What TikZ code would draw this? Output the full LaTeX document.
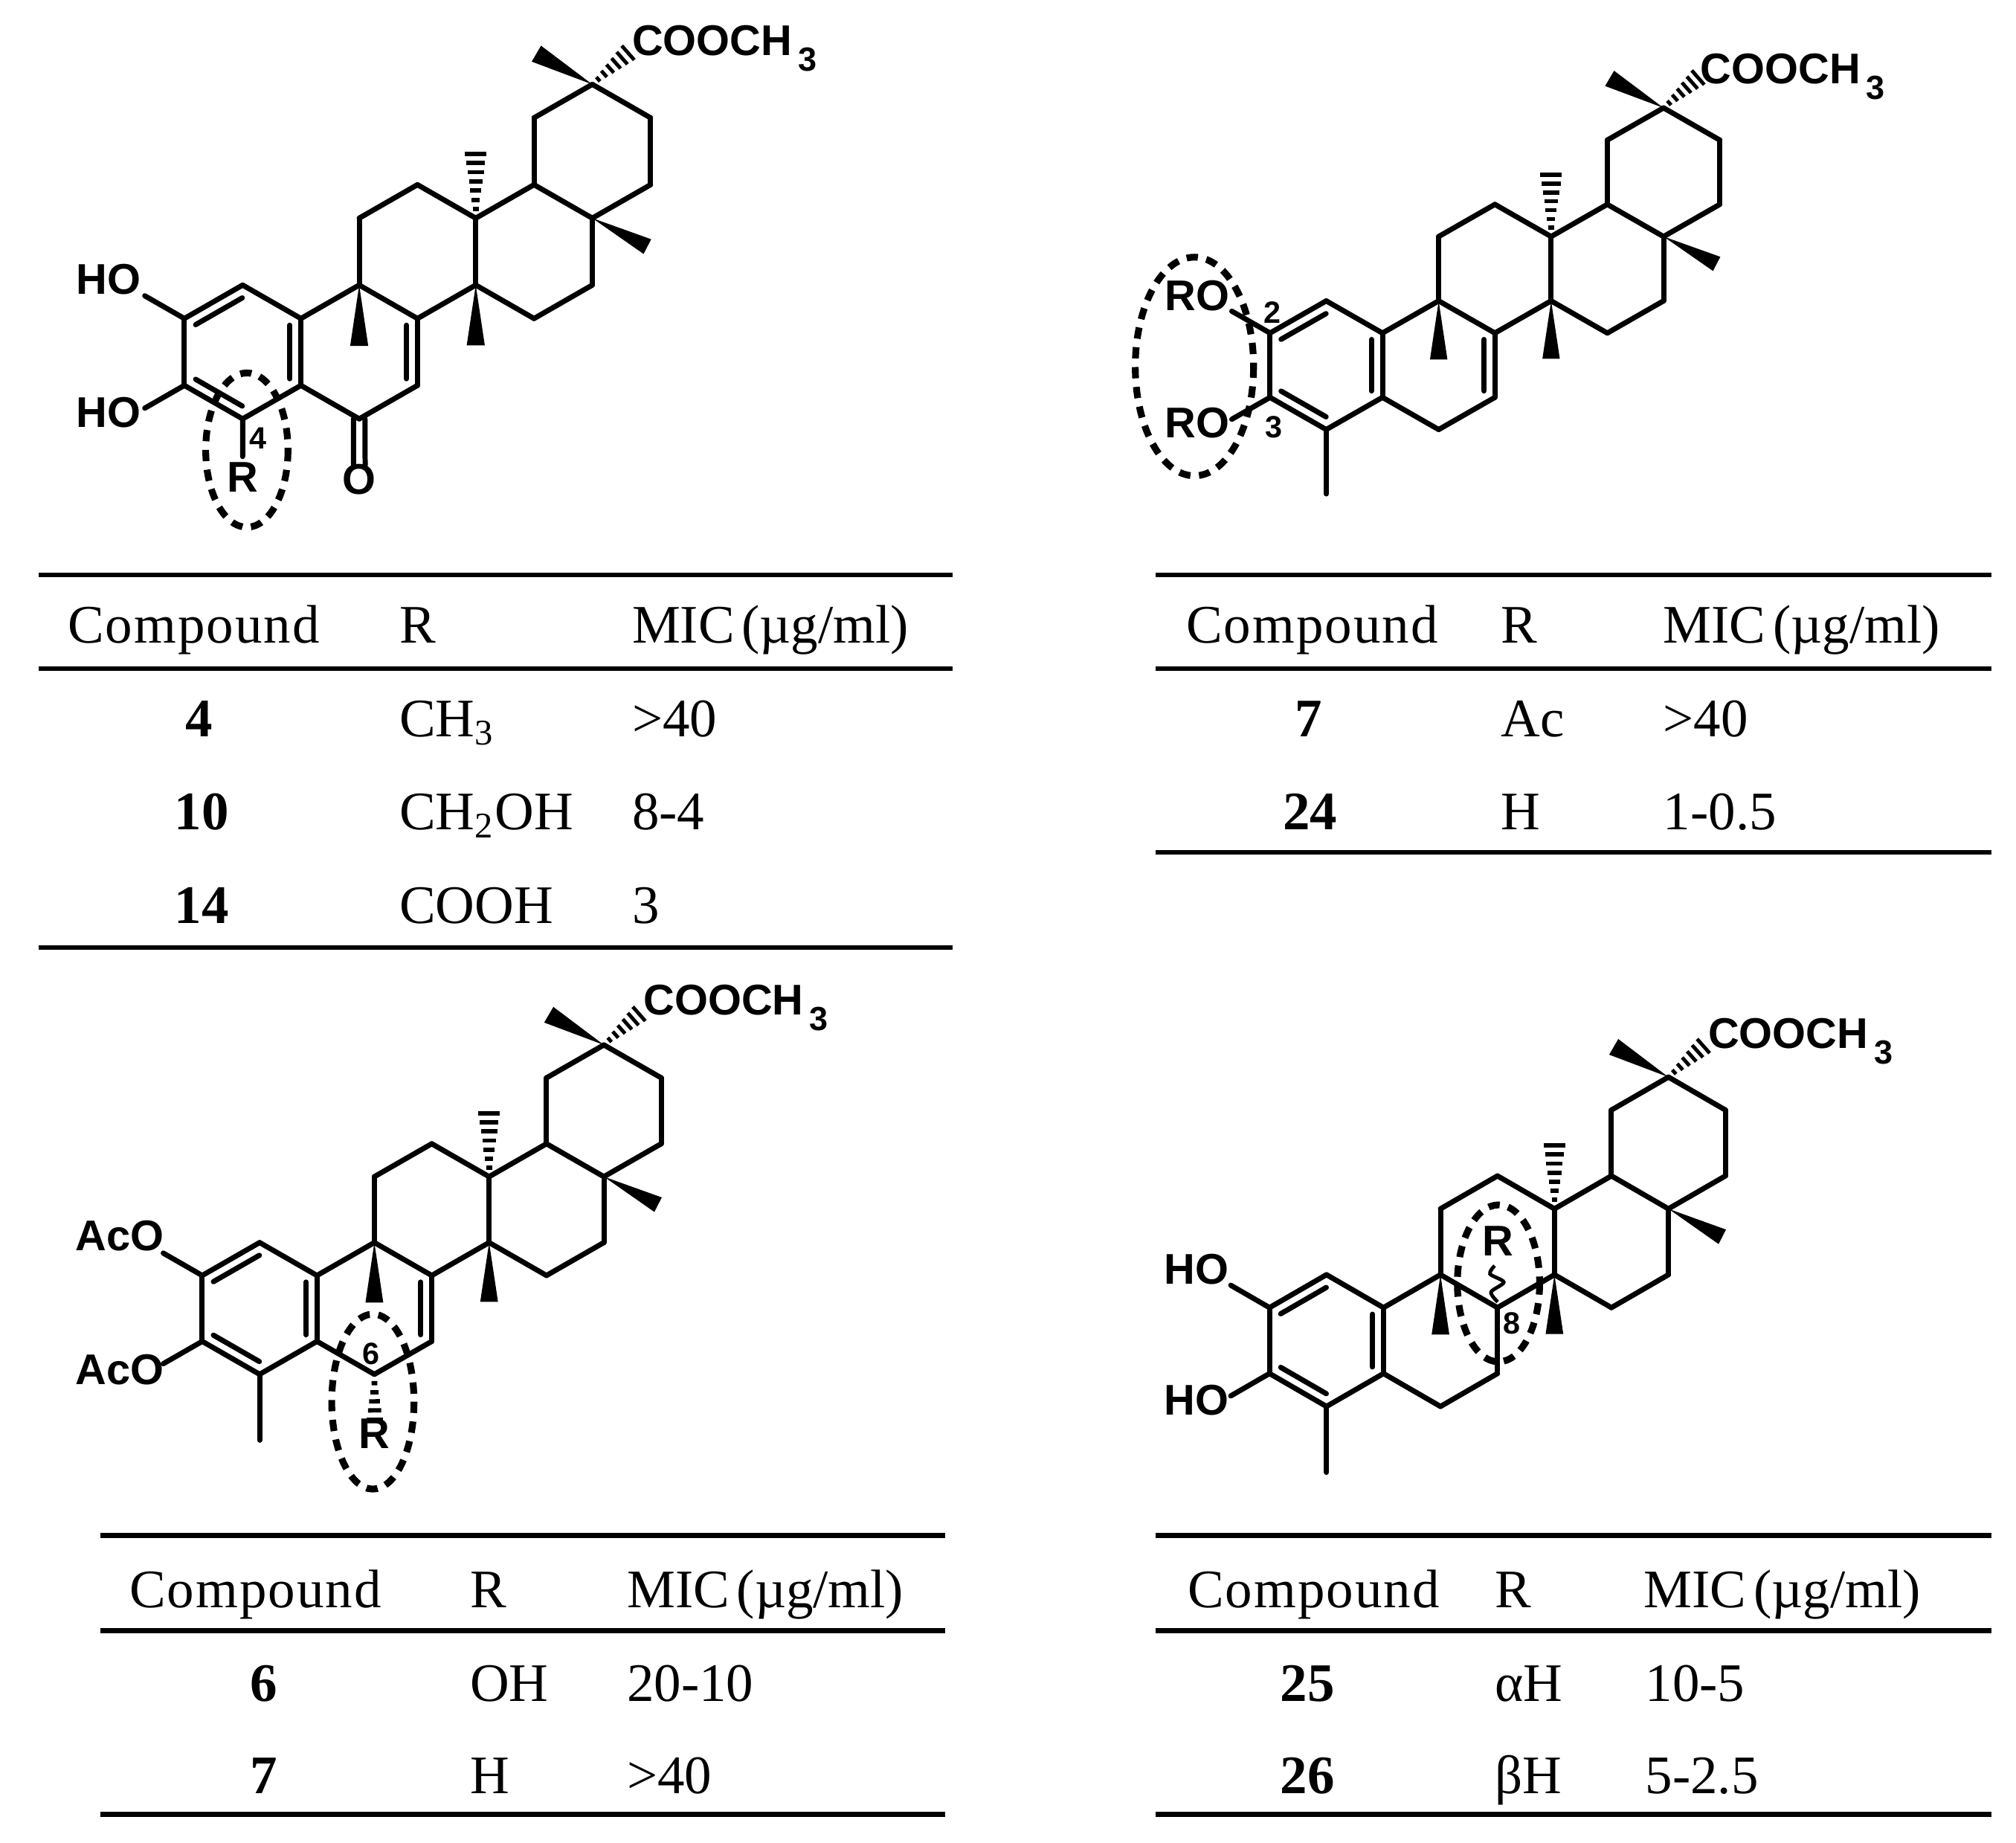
\documentclass[tikz,border=0pt]{standalone}
\usepackage{fontspec}
\setmainfont{Liberation Serif}
\newfontfamily\labelfont{Liberation Sans}
\newfontfamily\headfont[LetterSpace=2.8]{Liberation Serif}
\usepackage{tikz}
\usetikzlibrary{calc}

\tikzset{
    bond/.style={line width=1.15pt,line cap=round},
    hashline/.style={line width=0.95pt},
    finehash/.style={line width=0.8pt},
    rulerline/.style={line width=1.05pt},
    ringmark/.style={line width=1.5pt,dash pattern=on 2.5pt off 1.9pt},
    atomtext/.style={inner sep=0pt,font=\fontsize{9.5}{11}\labelfont\bfseries\selectfont},
    locant/.style={inner sep=0pt,font=\fontsize{6.8}{8}\labelfont\bfseries\selectfont},
    celltext/.style={anchor=base west,inner sep=0pt,font=\fontsize{12}{14}\selectfont},
    numtext/.style={anchor=base,inner sep=0pt,font=\fontsize{12}{14}\selectfont\bfseries}
}

\newcommand{\innerbond}[2]{\draw[bond] ($(#1)!.1!(#2)!.085cm!90:(#2)$) -- ($(#1)!.9!(#2)!.085cm!90:(#2)$);}
\newcommand{\hashbond}[5]{%
    \foreach \t in {1,...,#4} {
        \pgfmathsetmacro{\f}{(\t-.02)/#4}
        \pgfmathsetmacro{\hw}{.012+#3*\f}
        \draw[#5] ($(#1)!\f!(#2)!\hw cm!90:(#2)$) -- ($(#1)!\f!(#2)!\hw cm!-90:(#2)$);
    }
}
\newcommand{\skeleton}[5]{%
    \begin{scope}[shift={(#2,#3)},x=#4cm,y=-#5cm]
        \coordinate (#1c1) at (1,-1);  \coordinate (#1c2) at (0,0);   \coordinate (#1c3) at (0,2);
        \coordinate (#1c4) at (1,3);   \coordinate (#1c5) at (2,2);   \coordinate (#1c6) at (3,3);
        \coordinate (#1c7) at (4,2);   \coordinate (#1c8) at (4,0);   \coordinate (#1c9) at (3,-1);
        \coordinate (#1c10) at (2,0);  \coordinate (#1c11) at (3,-3); \coordinate (#1c12) at (4,-4);
        \coordinate (#1c13) at (5,-3); \coordinate (#1c14) at (5,-1); \coordinate (#1c15) at (6,0);
        \coordinate (#1c16) at (7,-1); \coordinate (#1c17) at (7,-3); \coordinate (#1c18) at (6,-4);
        \coordinate (#1c19) at (6,-6); \coordinate (#1c20) at (7,-7); \coordinate (#1c21) at (8,-6);
        \coordinate (#1c22) at (8,-4);
        \coordinate (#1sub2) at (-.68,-.68);
        \coordinate (#1sub3) at (-.68,2.68);
        \coordinate (#1me) at (1,5);
        \coordinate (#1ester) at (7.615,-7.945);
        \coordinate (#1axial) at (5,-4.93);
        \foreach \u/\v in {c1/c2,c2/c3,c3/c4,c4/c5,c5/c10,c10/c1,c5/c6,c6/c7,c7/c8,c8/c9,c9/c10,
            c9/c11,c11/c12,c12/c13,c13/c14,c14/c8,c14/c15,c15/c16,c16/c17,c17/c18,c18/c13,
            c18/c19,c19/c20,c20/c21,c21/c22,c22/c17,c2/sub2,c3/sub3}
            \draw[bond] (#1\u) -- (#1\v);
        \fill (#1c9) -- (2.845,.82) -- (3.155,.82) -- cycle;
        \fill (#1c14) -- (4.845,.8) -- (5.155,.8) -- cycle;
        \fill (#1c17) -- (8.01,-2.37) -- (7.88,-1.93) -- cycle;
        \fill (#1c20) -- (5.96,-7.68) -- (6.12,-8.155) -- cycle;
    \end{scope}
    \innerbond{#1c1}{#1c2}
    \innerbond{#1c3}{#1c4}
    \innerbond{#1c5}{#1c10}
    \hashbond{#1c13}{#1axial}{.072}{7}{hashline}
    \hashbond{#1c20}{#1ester}{.062}{6}{finehash}
}
\newcommand{\tablehead}[5]{%
    \node[celltext] (#1comp) at (#2,#5) {\headfont Compound};
    \node[celltext] (#1r) at (#3,#5) {R};
    \node[celltext] (#1mic) at (#4,#5) {MIC\kern1.6pt(µg/ml)};
}
\newcommand{\estertext}{COOCH\kern1.3pt\raisebox{-3.5pt}{\fontsize{7.4}{8}\selectfont 3}}

\begin{document}
\begin{tikzpicture}[x=0.01cm,y=-0.01cm]
\useasboundingbox (0,0) rectangle (1568,1433);

% top left
\skeleton{a}{143.4}{247.7}{.453}{.26}
\innerbond{ac7}{ac8}
\coordinate (aoxo) at (279.5,362);
\coordinate (arest) at (188.7,355);
\draw[bond] ($(ac6)!.045cm!90:(aoxo)$) -- ($(aoxo)!.045cm!-90:(ac6)$);
\draw[bond] ($(ac6)!.045cm!-90:(aoxo)$) -- ($(aoxo)!.045cm!90:(ac6)$);
\draw[bond] (ac4) -- (arest);
\node[atomtext,anchor=base west] (acooch) at (491,43) {\estertext};
\node[atomtext] (aho1) at (84.5,217) {HO};
\node[atomtext] (aho2) at (84.5,320.5) {HO};
\node[atomtext] (ao) at (279.5,373) {O};
\node[atomtext] (ar) at (188.7,371) {R};
\node[locant] (al4) at (200.7,341) {4};
\draw[ringmark] (192,350) ellipse (32 and 60);

\draw[rulerline] (30,447) -- (741,447);
\draw[rulerline] (30,520) -- (741,520);
\draw[rulerline] (30,737) -- (741,737);
\tablehead{ta}{52}{310}{491}{500}
\node[numtext] (ta4) at (155,573) {4};
\node[celltext] (ta4r) at (310,573) {CH\textsubscript{3}};
\node[celltext] (ta4m) at (491,573) {>40};
\node[numtext] (ta10) at (157,645) {10};
\node[celltext] (ta10r) at (310,645) {CH\textsubscript{2}OH};
\node[celltext] (ta10m) at (491,645) {8-4};
\node[numtext] (ta14) at (157,718) {14};
\node[celltext] (ta14r) at (310,718) {COOH};
\node[celltext] (ta14m) at (491,718) {3};

% top right
\skeleton{b}{987.8}{259}{.437}{.25}
\innerbond{bc7}{bc8}
\draw[bond] (bc4) -- (bme);
\node[atomtext,anchor=base west] (bcooch) at (1322,65) {\estertext};
\node[atomtext] (bro1) at (931,230) {RO};
\node[atomtext] (bro2) at (931,329) {RO};
\node[locant] (bl2) at (989.5,243) {2};
\node[locant] (bl3) at (991,332) {3};
\draw[ringmark] (929,285) ellipse (46 and 85);

\draw[rulerline] (899,447) -- (1549,447);
\draw[rulerline] (899,520) -- (1549,520);
\draw[rulerline] (899,663) -- (1549,663);
\tablehead{tb}{922}{1167}{1293}{500}
\node[numtext] (tb7) at (1018,573) {7};
\node[celltext] (tb7r) at (1167,573) {Ac};
\node[celltext] (tb7m) at (1293,573) {>40};
\node[numtext] (tb24) at (1019,645) {24};
\node[celltext] (tb24r) at (1167,645) {H};
\node[celltext] (tb24m) at (1293,645) {1-0.5};

% bottom left
\skeleton{c}{157.3}{991.9}{.446}{.256}
\innerbond{cc7}{cc8}
\draw[bond] (cc4) -- (cme);
\coordinate (crest) at (291.4,1104);
\hashbond{cc6}{crest}{.05}{5}{hashline}
\node[atomtext,anchor=base west] (ccooch) at (500,789) {\estertext};
\node[atomtext] (caco1) at (93,961) {AcO};
\node[atomtext] (caco2) at (93,1065) {AcO};
\node[atomtext] (cr) at (291.4,1115) {R};
\node[locant] (cl6) at (288.5,1053) {6};
\draw[ringmark] (290,1090) ellipse (32 and 68);

\draw[rulerline] (78,1194) -- (735,1194);
\draw[rulerline] (78,1268) -- (735,1268);
\draw[rulerline] (78,1411) -- (735,1411);
\tablehead{tc}{100}{365}{487}{1250}
\node[numtext] (tc6) at (205,1323) {6};
\node[celltext] (tc6r) at (365,1323) {OH};
\node[celltext] (tc6m) at (487,1323) {20-10};
\node[numtext] (tc7) at (205,1395) {7};
\node[celltext] (tc7r) at (365,1395) {H};
\node[celltext] (tc7m) at (487,1395) {>40};

% bottom right
\skeleton{d}{987.4}{1016.9}{.443}{.256}
\draw[bond] (dc4) -- (dme);
\draw[finehash,smooth] plot coordinates {(1162.5,984.3) (1158.9,990.7) (1169.6,997.1) (1159.7,1004.8) (1164.9,1012.5)};
\node[atomtext,anchor=base west] (dcooch) at (1328,815) {\estertext};
\node[atomtext] (dho1) at (930.4,987) {HO};
\node[atomtext] (dho2) at (930.4,1089) {HO};
\node[atomtext] (dr) at (1164.9,965) {R};
\node[locant] (dl8) at (1175.6,1029) {8};
\draw[ringmark] (1165.5,998) ellipse (32 and 61);

\draw[rulerline] (899,1194) -- (1549,1194);
\draw[rulerline] (899,1268) -- (1549,1268);
\draw[rulerline] (899,1411) -- (1549,1411);
\tablehead{td}{923}{1162}{1278}{1250}
\node[numtext] (td25) at (1017,1323) {25};
\node[celltext] (td25r) at (1162,1323) {αH};
\node[celltext] (td25m) at (1279,1323) {10-5};
\node[numtext] (td26) at (1017,1395) {26};
\node[celltext] (td26r) at (1162,1395) {βH};
\node[celltext] (td26m) at (1279,1395) {5-2.5};

\end{tikzpicture}
\end{document}
